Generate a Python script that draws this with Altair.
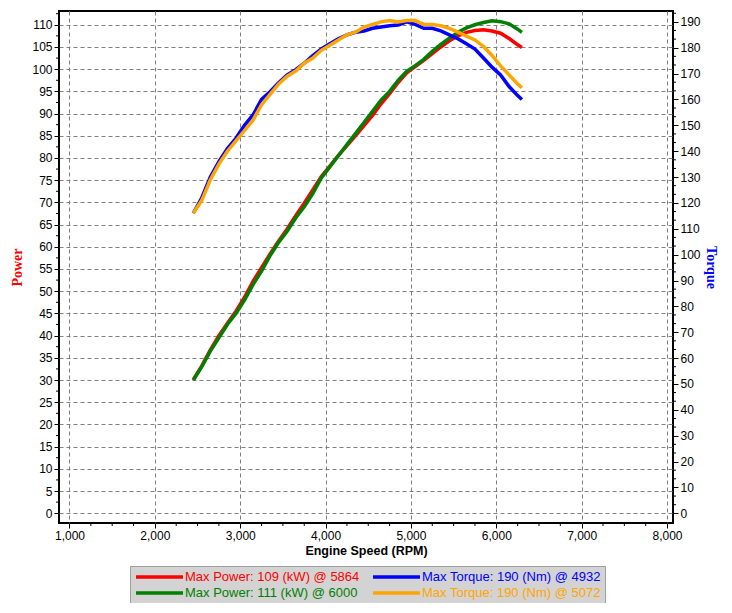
import altair as alt
import pandas as pd

rpm = [2450, 2550, 2650, 2750, 2850, 2950, 3050, 3150, 3250, 3350,
       3450, 3550, 3650, 3750, 3850, 3950, 4050, 4150, 4250, 4350,
       4450, 4550, 4650, 4750, 4850, 4950, 5050, 5150, 5250, 5350,
       5450, 5550, 5650, 5750, 5850, 5950, 6050, 6150, 6250, 6300]

power_red = [30, 33.2, 36.8, 40, 42.8, 45.5, 48.6, 52.2, 55.3, 58.4,
             61.3, 64, 67, 69.8, 72.8, 75.8, 78.2, 80.6, 82.8, 85,
             87.3, 89.6, 92.2, 94.5, 97, 99.2, 100.6, 102, 103.5, 105,
             106.4, 107.5, 108.3, 108.7, 108.9, 108.6, 108.1, 106.9, 105.5, 104.9]

power_green = [30, 33, 36.5, 39.5, 42.5, 45, 48, 51.5, 54.5, 58,
               61, 63.5, 66.5, 69, 72, 75.5, 78, 80.5, 83, 85.5,
               88, 90.5, 93, 95, 97.5, 99.5, 100.8, 102.2, 104, 105.6,
               107, 108.3, 109.3, 110, 110.5, 110.9, 110.7, 110.2, 109, 108.3]

torque_blue = [116, 122, 130, 136, 141, 145, 150, 154, 160, 163,
               166.5, 169.5, 171.5, 174, 177, 179.5, 181.5, 183.5, 185, 186,
               186.5, 187.5, 188, 188.5, 188.8, 190, 189, 187.5, 187.5, 186.5,
               185, 183.5, 181.5, 179.5, 176, 172.5, 169.5, 165, 161.5, 160]

torque_orange = [116, 121, 129, 135, 140, 144, 148, 152, 158, 162,
                 166, 169, 171, 174, 176, 179, 181, 183, 185, 186,
                 188, 189, 190, 190.5, 190, 190.5, 190.5, 189, 189, 188.5,
                 187.5, 186, 184.5, 183, 180.5, 177, 173, 169.5, 166, 164.5]

labels = ["Max Power: 109 (kW) @ 5864", "Max Torque: 190 (Nm) @ 4932",
          "Max Power: 111 (kW) @ 6000", "Max Torque: 190 (Nm) @ 5072"]
colors = ["#ff0000", "#0000ff", "#008000", "#ffa500"]

x_ticks = [1000, 2000, 3000, 4000, 5000, 6000, 7000, 8000]
x_minor = [1250, 1500, 1750, 2250, 2500, 2750, 3250, 3500, 3750, 4250, 4500, 4750,
           5250, 5500, 5750, 6250, 6500, 6750, 7250, 7500, 7750]
power_ticks = [0, 5, 10, 15, 20, 25, 30, 35, 40, 45, 50, 55, 60, 65, 70, 75, 80, 85, 90, 95, 100, 105, 110]
power_minor = [2.5, 7.5, 12.5, 17.5, 22.5, 27.5, 32.5, 37.5, 42.5, 47.5, 52.5, 57.5,
               62.5, 67.5, 72.5, 77.5, 82.5, 87.5, 92.5, 97.5, 102.5, 107.5, 112.5]
torque_ticks = [0, 10, 20, 30, 40, 50, 60, 70, 80, 90, 100, 110, 120, 130, 140, 150, 160, 170, 180, 190]
torque_minor = [3.33, 6.67, 13.33, 16.67, 23.33, 26.67, 33.33, 36.67, 43.33, 46.67,
                53.33, 56.67, 63.33, 66.67, 73.33, 76.67, 83.33, 86.67, 93.33, 96.67,
                103.33, 106.67, 113.33, 116.67, 123.33, 126.67, 133.33, 136.67, 143.33, 146.67,
                153.33, 156.67, 163.33, 166.67, 173.33, 176.67, 183.33, 186.67, 193.33]

PLOT_W, PLOT_H = 614, 512


def frame(values, label):
    return pd.DataFrame({"rpm": rpm, "value": values, "series": label})


label_color_expr = " : ".join(
    f"datum.label === '{lab}' ? '{col}'" for lab, col in zip(labels, colors)
) + " : 'black'"

color = alt.Color(
    "series:N",
    scale=alt.Scale(domain=labels, range=colors),
    legend=alt.Legend(
        title=None, orient="none", legendX=71, legendY=555, columns=2,
        direction="horizontal",
        symbolType="M-1,0H8.4", symbolSize=100, symbolStrokeWidth=3.5,
        labelFont="Liberation Sans", labelFontSize=13, labelLimit=300,
        labelOffset=37, fillColor="#d3d3d3", strokeColor="#a0a0a0",
        padding=4, columnPadding=6, rowPadding=2,
        labelColor=alt.ExprRef(expr=label_color_expr),
    ),
)

x = alt.X("rpm:Q", scale=alt.Scale(domain=[877, 8070], nice=False, zero=False),
          axis=alt.Axis(values=x_ticks, format=",d", title="Engine Speed (RPM)",
                        titleFont="Liberation Sans", titleFontWeight="bold",
                        titleFontSize=12.5, titleColor="black", titlePadding=3,
                        gridColor="#808080", gridDash=[4, 3], gridOpacity=1))

y_power = alt.Y("value:Q", scale=alt.Scale(domain=[-2.2, 113.1], nice=False, zero=False),
                axis=alt.Axis(values=power_ticks, orient="left", title="Power",
                              titleColor="#ff0000", titleFont="Liberation Serif",
                              titleFontWeight="bold", titleFontSize=14, titlePadding=7,
                              gridColor="#808080", gridDash=[4, 3], gridOpacity=1))

y_torque = alt.Y("value:Q", scale=alt.Scale(domain=[-3.75, 194.2], nice=False, zero=False),
                 axis=alt.Axis(values=torque_ticks, orient="right", title="Torque",
                               titleColor="#0000ff", titleFont="Liberation Serif",
                               titleFontWeight="bold", titleFontSize=14, titlePadding=3,
                               gridColor="#b4b4b4", gridDash=[4, 3], gridOpacity=1))


def line(values, label, y):
    return alt.Chart(frame(values, label)).mark_line(strokeWidth=3.5).encode(
        x=x, y=y, color=color)


minor_power = alt.Chart(pd.DataFrame({"value": power_minor})).mark_rule(
    color="black", strokeWidth=1).encode(y=y_power, x=alt.value(-3), x2=alt.value(0))
minor_torque = alt.Chart(pd.DataFrame({"value": torque_minor})).mark_rule(
    color="black", strokeWidth=1).encode(y=y_torque, x=alt.value(PLOT_W), x2=alt.value(PLOT_W + 3))
minor_x = alt.Chart(pd.DataFrame({"rpm": x_minor})).mark_rule(
    color="black", strokeWidth=1).encode(x=x, y=alt.value(PLOT_H), y2=alt.value(PLOT_H + 3))

power = alt.layer(minor_power, minor_x,
                  line(power_red, labels[0], y_power), line(power_green, labels[2], y_power))
torque = alt.layer(minor_torque,
                   line(torque_blue, labels[1], y_torque), line(torque_orange, labels[3], y_torque))

chart = alt.layer(power, torque).resolve_scale(y="independent").properties(
    width=PLOT_W, height=PLOT_H,
    autosize=alt.AutoSizeParams(type="none"),
    padding={"left": 51, "top": 3, "right": 51, "bottom": 80},
).configure_view(stroke="black", strokeWidth=2).configure_axis(
    labelFont="Liberation Sans", labelFontSize=12, labelColor="black",
    tickColor="black", tickSize=5, domain=False, labelPadding=2,
)

chart.save("out.html", embed_options={"renderer": "svg", "actions": False})
